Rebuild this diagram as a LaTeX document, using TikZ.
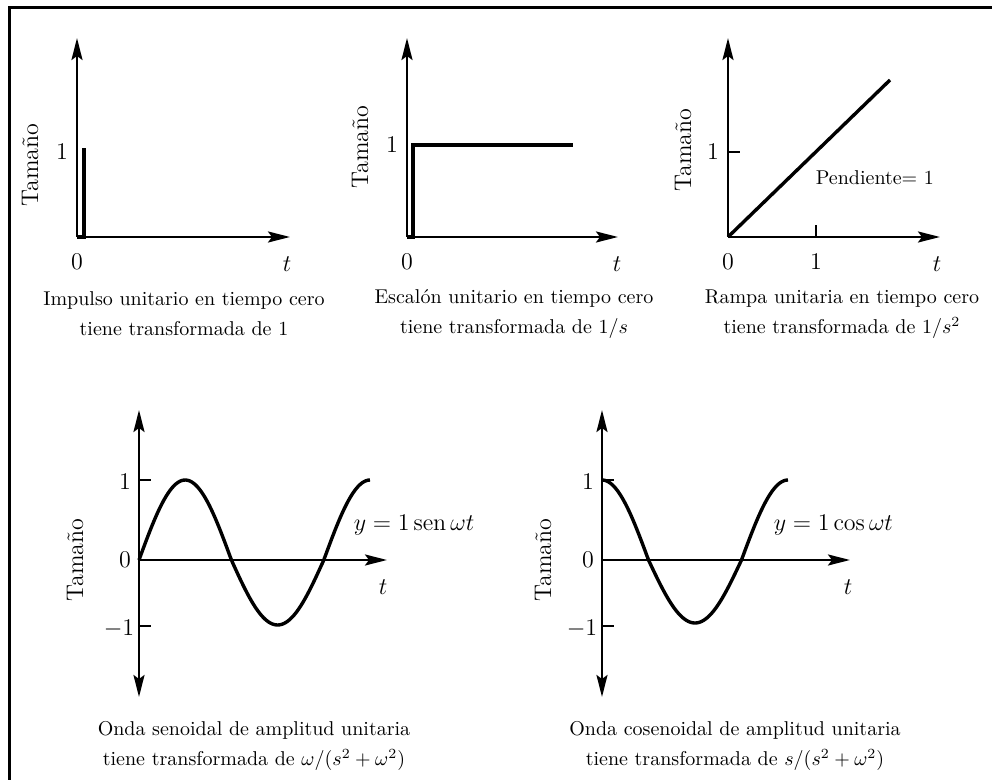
\documentclass[tikz,border=0pt]{standalone}
\usepackage{amsmath,amssymb}
\usetikzlibrary{arrows.meta}

\begin{document}
\begin{tikzpicture}[x=0.5pt,y=-0.5pt,line width=1.2pt,
  axis/.style={-{Stealth[length=11pt,width=5.5pt,inset=2pt]}},
  axes/.style={{Stealth[length=11pt,width=5.5pt,inset=2pt]}-{Stealth[length=11pt,width=5.5pt,inset=2pt]}},
  curve/.style={line width=1.7pt},
  ylab/.style={rotate=90,font=\large},
  tick/.style={font=\large},
  caption/.style={align=center,font=\fontsize{10}{15}\selectfont}]
\useasboundingbox (0,0) rectangle (992,780);
\draw[line width=1.5pt] (9,780)--(9,8)--(992,8);

% impulso
\draw[axis] (77,237)--(77,38);
\draw[axis] (77,237)--(290,237);
\draw[curve] (77,237)--(84,237)--(84,148);
\node[tick] (impY) at (62,152) {1};
\node[tick] (impO) at (77,262) {0};
\node[tick] (impT) at (287,264) {$t$};
\node[ylab] (impTam) at (30,165) {Tamaño};
\node[caption] (impCap) at (184,314) {Impulso unitario en tiempo cero\\tiene transformada de 1};

% escalon
\draw[axis] (407,237)--(407,38);
\draw[axis] (407,237)--(618,237);
\draw[curve] (407,237)--(413,237)--(413,145)--(573,145);
\node[tick] (escY) at (392,145) {1};
\node[tick] (escO) at (407,262) {0};
\node[tick] (escT) at (617,264) {$t$};
\node[ylab] (escTam) at (360,147) {Tamaño};
\node[caption] (escCap) at (514,314) {Escalón unitario en tiempo cero\\tiene transformada de $1/s$};

% rampa
\draw[axis] (728,237)--(728,38);
\draw[axis] (728,237)--(940,237);
\draw (728,152)--(740,152);
\draw (816,237)--(816,225);
\draw[curve] (728,237)--(890,80);
\node[tick] (ramY) at (713,152) {1};
\node[tick] (ramO) at (728,262) {0};
\node[tick] (ramX) at (816,262) {1};
\node[tick] (ramT) at (937,264) {$t$};
\node[anchor=west] (ramP) at (808,178) {Pendiente= 1};
\node[ylab] (ramTam) at (683,150) {Tamaño};
\node[caption] (ramCap) at (842,314) {Rampa unitaria en tiempo cero\\tiene transformada de $1/s^2$};

% seno
\draw[axes] (139,697)--(139,410);
\draw[axis] (139,560)--(387,560);
\draw (139,480)--(151,480);
\draw (139,626)--(151,626);
\draw[curve] plot[domain=0:450,samples=120,smooth]
  ({139+\x/360*184.8},{560-(sin(\x)>0 ? 80 : 65)*sin(\x)});
\node[tick] (senA) at (125,482) {1};
\node[tick] (senO) at (125,560) {0};
\node[tick] (senB) at (119,629) {$-1$};
\node[tick] (senT) at (383,587) {$t$};
\node[anchor=west,font=\large] (senEq) at (346,525) {$y = 1 \operatorname{sen} \omega t$};
\node[ylab] (senTam) at (75,560) {Tamaño};
\node[caption] (senCap) at (254,746) {Onda senoidal de amplitud unitaria\\tiene transformada de $\omega/(s^2+\omega^2)$};

% coseno
\draw[axes] (602,697)--(602,410);
\draw[axis] (602,560)--(850,560);
\draw (602,480)--(614,480);
\draw (602,626)--(614,626);
\draw[curve] plot[domain=0:360,samples=120,smooth]
  ({602+\x/360*186},{560-(cos(\x)>0 ? 80 : 63)*cos(\x)});
\node[tick] (cosA) at (588,482) {1};
\node[tick] (cosO) at (588,560) {0};
\node[tick] (cosB) at (582,629) {$-1$};
\node[tick] (cosT) at (848,587) {$t$};
\node[anchor=west,font=\large] (cosEq) at (766,525) {$y = 1 \cos \omega t$};
\node[ylab] (cosTam) at (543,560) {Tamaño};
\node[caption] (cosCap) at (735,746) {Onda cosenoidal de amplitud unitaria\\tiene transformada de $s/(s^2+\omega^2)$};
\end{tikzpicture}
\end{document}
